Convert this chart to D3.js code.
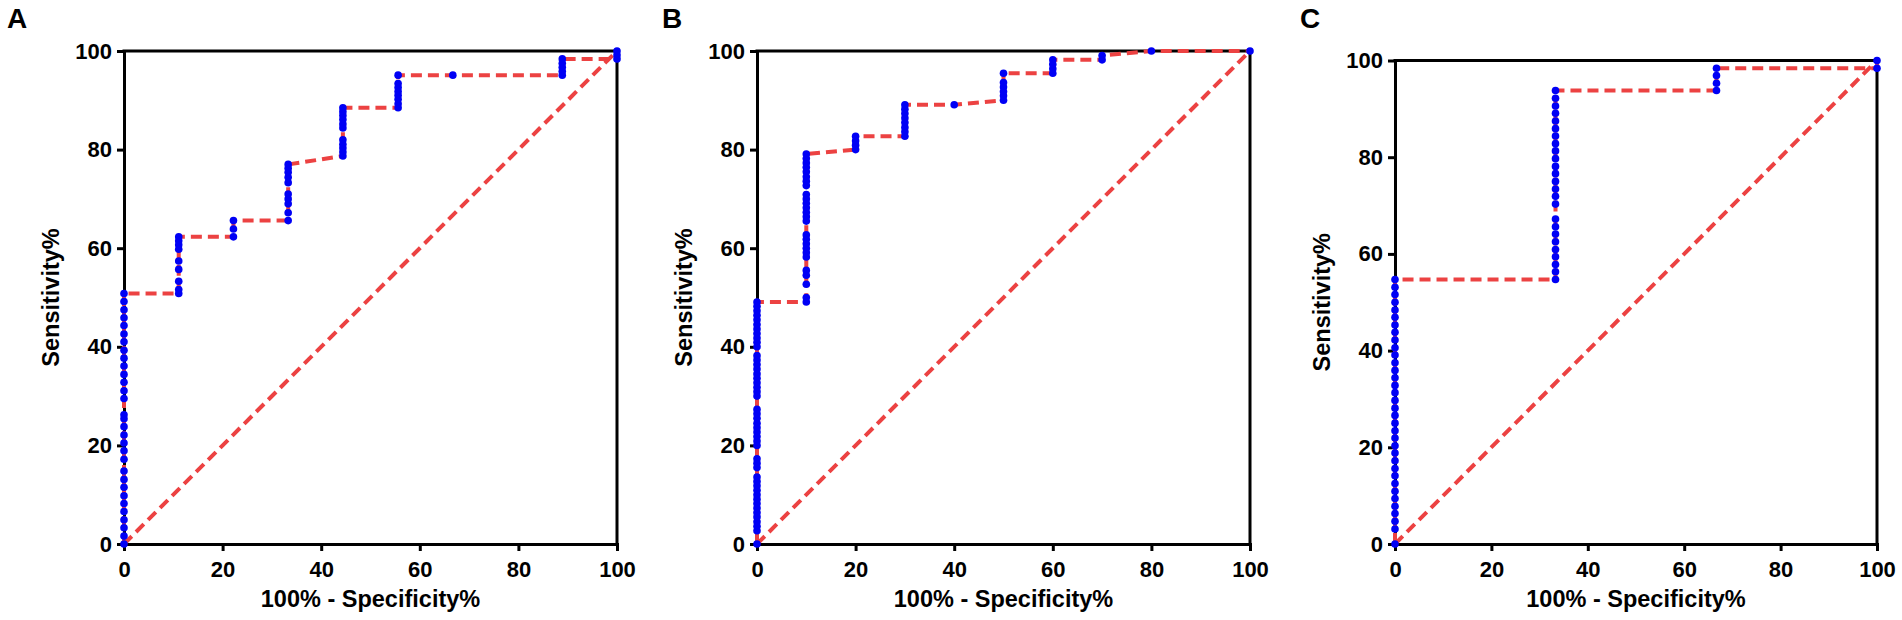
<!DOCTYPE html>
<html>
<head>
<meta charset="utf-8">
<script src="https://cdn.jsdelivr.net/npm/d3@7"></script>
<style>
  body { margin: 0; background: #fff; }
  text { font-family: "Liberation Sans", Arial, sans-serif; font-weight: bold; fill: #000; }
</style>
</head>
<body>
<svg id="chart" width="1902" height="620"></svg>
<script>
//DATA/////////////////////////////////
var ticks = [0, 20, 40, 60, 80, 100];
var xTitle = "100% - Specificity%";
var yTitle = "Sensitivity%";

// panel A : 100% - specificity columns and the sensitivity points in each column
var fprA = [0, 11.1, 22.2, 33.3, 44.4, 55.6, 66.7, 88.9, 100];
var sensA = [
  [0, 1.6, 3.3, 4.9, 6.6, 8.2, 9.8, 11.5, 13.1, 14.8, 17.2, 18.9, 20.5, 22.1, 23.8, 25.4, 26.2,
   29.5, 31.1, 32.8, 34.4, 36.1, 37.7, 39.3, 41.0, 42.6, 44.3, 45.9, 47.5, 49.2, 50.8],
  [50.8, 51.6, 53.3, 55.7, 57.4, 59.8, 60.7, 61.5, 62.3],
  [62.3, 63.9, 65.6],
  [65.6, 67.2, 69.0, 70.0, 71.0, 73.3, 74.4, 75.4, 76.2, 77.0],
  [78.7, 79.5, 80.3, 81.1, 82.0, 84.4, 85.2, 86.1, 86.9, 87.7, 88.5],
  [88.5, 89.3, 90.2, 91.0, 91.8, 92.6, 93.4, 95.1],
  [95.1],
  [95.1, 95.9, 96.7, 97.5, 98.4],
  [98.4, 99.2, 100]
];

// panel B
var fprB = [0, 10, 20, 30, 40, 50, 60, 70, 80, 100];
var sensB = [
  [0, 2.7, 3.6, 4.5, 5.5, 6.4, 7.3, 8.2, 9.1, 10.0, 10.9, 11.8, 12.7, 13.6, 15.5, 16.4, 17.3,
   20.0, 20.9, 21.8, 22.7, 23.6, 24.5, 25.5, 26.4, 27.3, 30.0, 30.9, 31.8, 32.7, 33.6, 34.5,
   35.5, 36.4, 37.3, 38.2, 40.0, 40.9, 41.8, 42.7, 43.6, 44.5, 45.5, 46.4, 47.3, 48.2, 49.1],
  [49.1, 50.0, 52.7, 54.5, 55.5, 58.2, 59.1, 60.0, 60.9, 61.8, 62.7, 65.5, 66.4, 67.3, 68.2,
   69.1, 70.0, 70.9, 72.7, 73.6, 74.5, 75.5, 76.4, 77.3, 78.2, 79.1],
  [80.0, 80.9, 81.8, 82.7],
  [82.7, 83.6, 84.5, 85.5, 86.4, 87.3, 88.2, 89.1],
  [89.1],
  [90.0, 90.9, 91.8, 92.7, 93.6, 95.5],
  [95.5, 96.4, 97.3, 98.2],
  [98.2, 99.1],
  [100],
  [100]
];

// panel C
var fprC = [0, 33.3, 66.7, 100];
var sensC = [
  [0, 3.1, 4.7, 6.3, 7.8, 9.4, 10.9, 12.5, 14.1, 15.6, 17.2, 18.8, 20.3, 21.9, 23.4, 25.0, 26.6,
   28.1, 29.7, 31.3, 32.8, 34.4, 35.9, 37.5, 39.1, 40.6, 42.2, 43.8, 45.3, 46.9, 48.4, 50.0,
   51.6, 53.1, 54.7],
  [54.7, 56.3, 57.8, 59.4, 60.9, 62.5, 64.1, 65.6, 67.2, 70.3, 71.9, 73.4, 75.0, 76.6, 78.1,
   79.7, 81.3, 82.8, 84.4, 85.9, 87.5, 89.1, 90.6, 92.2, 93.8],
  [93.8, 95.3, 96.9, 98.4],
  [98.4, 100]
];

//LAYOUT///////////////////////////////
var FONT = '"Liberation Sans", Arial, sans-serif';
var RED = "#ec4242";
var BLUE = "#0000f5";

var panels = [
  { letter: "A", fpr: fprA, sens: sensA, left: 124, top: 51, w: 493, h: 493, letterX: 7 },
  { letter: "B", fpr: fprB, sens: sensB, left: 757, top: 51, w: 493, h: 493, letterX: 662 },
  { letter: "C", fpr: fprC, sens: sensC, left: 1395, top: 60.5, w: 482, h: 483.5, letterX: 1300 }
];

var svg = d3.select("#chart");
svg.append("rect").attr("width", 1902).attr("height", 620).attr("fill", "#fff");

function drawPanel(p) {
  var x = d3.scaleLinear().domain([0, 100]).range([0, p.w]);
  var y = d3.scaleLinear().domain([0, 100]).range([p.h, 0]);

  // flatten columns into the roc points, in order
  var pts = [];
  p.fpr.forEach(function (f, i) {
    p.sens[i].forEach(function (s) { pts.push([f, s]); });
  });

  var g = svg.append("g").attr("transform", "translate(" + p.left + "," + p.top + ")");

  // top + right frame
  g.append("path")
    .attr("d", "M0,0H" + p.w + "V" + p.h)
    .attr("fill", "none")
    .attr("stroke", "#000")
    .attr("stroke-width", 3)
    .attr("stroke-linecap", "square");

  var xAxis = g.append("g")
    .attr("transform", "translate(0," + p.h + ")")
    .call(d3.axisBottom(x).tickValues(ticks).tickSize(7).tickSizeOuter(0).tickPadding(10));
  var yAxis = g.append("g")
    .call(d3.axisLeft(y).tickValues(ticks).tickSize(7).tickSizeOuter(0).tickPadding(5));

  [xAxis, yAxis].forEach(function (a) {
    a.attr("font-size", 22).attr("font-family", FONT);
    a.select(".domain").attr("stroke-width", 3).attr("stroke-linecap", "square");
    a.selectAll(".tick line").attr("stroke-width", 3);
  });

  // chance line
  g.append("line")
    .attr("x1", x(0)).attr("y1", y(0))
    .attr("x2", x(100)).attr("y2", y(100))
    .attr("stroke", RED)
    .attr("stroke-width", 4)
    .attr("stroke-dasharray", "11,6");

  // roc line
  g.append("path")
    .datum(pts)
    .attr("d", d3.line().x(function (d) { return x(d[0]); }).y(function (d) { return y(d[1]); }))
    .attr("fill", "none")
    .attr("stroke", RED)
    .attr("stroke-width", 4)
    .attr("stroke-dasharray", "11,6");

  g.selectAll("circle.pt")
    .data(pts)
    .join("circle")
    .attr("class", "pt")
    .attr("cx", function (d) { return x(d[0]); })
    .attr("cy", function (d) { return y(d[1]); })
    .attr("r", 3.8)
    .attr("fill", BLUE);

  // titles
  g.append("text")
    .attr("transform", "translate(-65," + p.h / 2 + ") rotate(-90)")
    .attr("text-anchor", "middle")
    .attr("font-size", 23.5)
    .text(yTitle);
  g.append("text")
    .attr("x", p.w / 2)
    .attr("y", p.h + 63)
    .attr("text-anchor", "middle")
    .attr("font-size", 23.5)
    .text(xTitle);

  svg.append("text")
    .attr("x", p.letterX)
    .attr("y", 28)
    .attr("font-size", 28)
    .text(p.letter);
}

panels.forEach(drawPanel);
</script>
</body>
</html>
